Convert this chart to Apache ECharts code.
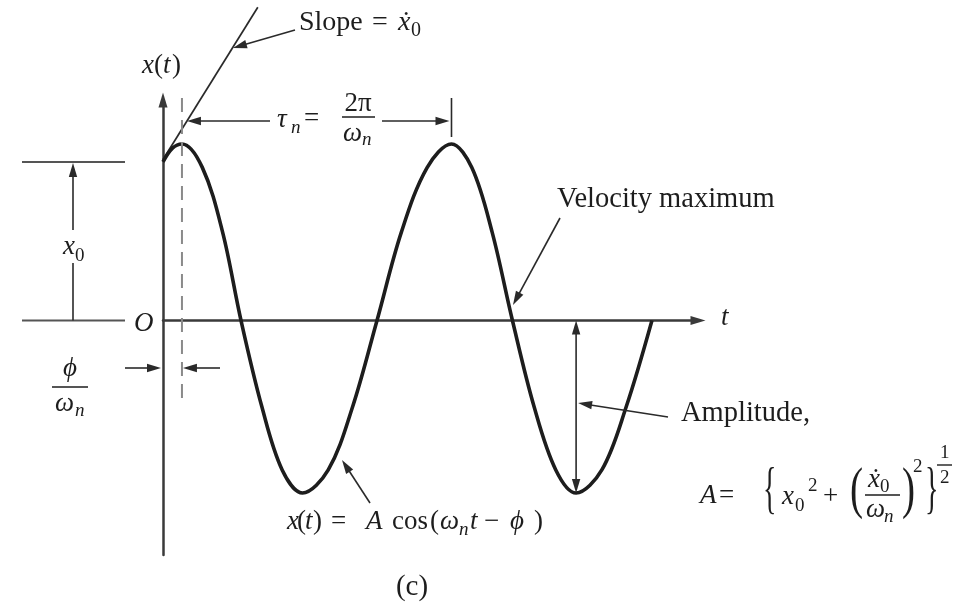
<!DOCTYPE html>
<html>
<head>
<meta charset="utf-8">
<title>Free vibration response</title>
<script src="https://cdn.jsdelivr.net/npm/echarts@6/dist/echarts.min.js"></script>
<style>
  html, body { margin: 0; padding: 0; background: #ffffff; }
  #chart { width: 966px; height: 606px; }
</style>
</head>
<body>
<div id="chart"></div>
<script>
// Time (in units of pi / omega_n) and displacement (in units of A) along the response curve
const tValues = [0, 0.07, 0.14, 0.29, 0.44, 0.576, 0.73, 0.88, 1.03, 1.22, 1.40, 1.58,
                 1.76, 1.95, 2.13, 2.28, 2.43, 2.58, 2.74, 2.90, 3.05, 3.24, 3.42, 3.61];
const xValues = [0.906, 0.985, 1.009, 0.875, 0.505, 0, -0.493, -0.854, -0.986, -0.854, -0.493, 0,
                 0.505, 0.874, 1.009, 0.874, 0.505, 0, -0.493, -0.854, -0.986, -0.854, -0.493, 0];
// Tangent at t = 0 (initial velocity)
const slopeT = [0, 0.70];
const slopeX = [0.92, 1.79];

const INK = '#1d1d1d';
const SERIF = '"Liberation Serif", "DejaVu Serif", serif';
const PHI = '\u03D5';

const chart = echarts.init(document.getElementById('chart'), null, { renderer: 'canvas' });

const axisCommon = {
  type: 'value',
  axisTick: { show: false },
  axisLabel: { show: false },
  splitLine: { show: false },
  axisLine: {
    show: true,
    onZero: true,
    symbol: ['none', 'triangle'],
    symbolSize: [9, 15],
    lineStyle: { color: '#3a3a3a', width: 2.5 }
  }
};

chart.setOption({
  animation: false,
  backgroundColor: '#ffffff',
  grid: { left: 163, top: 100, width: 535, height: 455 },
  xAxis: Object.assign({}, axisCommon, { min: 0, max: 3.95 }),
  yAxis: Object.assign({}, axisCommon, { min: -1.34, max: 1.26 }),
  series: [
    {
      name: 'x(t)',
      type: 'line',
      data: tValues.map((t, i) => [t, xValues[i]]),
      smooth: 0.35,
      showSymbol: false,
      lineStyle: { color: INK, width: 3.6 },
      z: 5
    },
    {
      name: 'slope',
      type: 'line',
      data: slopeT.map((t, i) => [t, slopeX[i]]),
      clip: false,
      showSymbol: false,
      lineStyle: { color: '#2a2a2a', width: 1.7 },
      z: 4
    }
  ]
});

// ---- annotation helpers ----
const toPx = (t, x) => chart.convertToPixel({ gridIndex: 0 }, [t, x]);
const els = [];

function seg(x1, y1, x2, y2, width, color, dash) {
  els.push({
    type: 'line', silent: true, z: 10,
    shape: { x1, y1, x2, y2 },
    style: { stroke: color || '#2a2a2a', lineWidth: width || 1.6, lineDash: dash || null }
  });
}
function head(x1, y1, x2, y2, len, half, color) {
  const dx = x2 - x1, dy = y2 - y1, d = Math.hypot(dx, dy);
  const ux = dx / d, uy = dy / d, nx = -uy, ny = ux;
  const bx = x2 - ux * len, by = y2 - uy * len;
  els.push({
    type: 'polygon', silent: true, z: 11,
    shape: { points: [[x2, y2], [bx + nx * half, by + ny * half], [bx - nx * half, by - ny * half]] },
    style: { fill: color || '#2a2a2a' }
  });
}
function arrow(x1, y1, x2, y2, width, color) {
  const dx = x2 - x1, dy = y2 - y1, d = Math.hypot(dx, dy);
  seg(x1, y1, x2 - dx / d * 6, y2 - dy / d * 6, width, color);
  head(x1, y1, x2, y2, 14, 4.2, color);
}
function txt(x, y, text, opt) {
  opt = opt || {};
  const size = opt.size || 27;
  els.push({
    type: 'text', silent: true, z: 12,
    x, y,
    scaleX: opt.sx || 1,
    style: {
      text,
      font: (opt.italic ? 'italic ' : '') + size + 'px ' + SERIF,
      fill: INK,
      align: opt.align || 'left',
      verticalAlign: 'middle'
    }
  });
}

// key points on the curve
const p0 = toPx(0, 0);
const pStart = toPx(tValues[0], xValues[0]);
const pPeak1 = toPx(tValues[2], xValues[2]);
const pPeak2 = toPx(tValues[14], xValues[14]);
const pTrough2 = toPx(tValues[20], xValues[20]);

// phase line through the first maximum
seg(pPeak1[0], 98, pPeak1[0], 400, 2, '#8a8a8a', [14, 8]);

// x0 reference lines and dimension arrow
seg(22, pStart[1], 125, pStart[1], 2, '#555555');
seg(22, p0[1], 125, p0[1], 2, '#555555');
seg(73, p0[1], 73, 263, 1.6);
arrow(73, 230, 73, pStart[1] + 1, 1.6);
txt(63, 247, 'x', { italic: true });
txt(75, 256, '0', { size: 19 });

// origin and axis labels
txt(134, 324, 'O', { italic: true });
txt(721, 318, 't', { italic: true });
txt(142, 66, 'x', { italic: true });
txt(154, 66, '(');
txt(163, 66, 't', { italic: true });
txt(172, 66, ')');

// slope label
arrow(295, 30, 233, 48, 1.6);
txt(299, 23, 'Slope', { size: 28 });
txt(372, 23, '=', { size: 28 });
txt(398, 23, '\u1E8B', { italic: true, size: 28 });
txt(411, 31, '0', { size: 20 });

// period dimension
seg(pPeak2[0], 98, pPeak2[0], 137, 1.6);
arrow(270, 121, pPeak1[0] + 5, 121, 1.6);
arrow(382, 121, pPeak2[0] - 2, 121, 1.6);
txt(277, 120, '\u03C4', { italic: true });
txt(291, 128, 'n', { italic: true, size: 19 });
txt(304, 119, '=');
txt(358, 104, '2\u03C0', { align: 'center' });
seg(342, 117, 375, 117, 1.5, INK);
txt(343, 134, '\u03C9', { italic: true });
txt(362, 140, 'n', { italic: true, size: 19 });

// phase offset phi / omega_n
arrow(125, 368, p0[0] - 2, 368, 1.6);
arrow(220, 368, pPeak1[0] + 1, 368, 1.6);
txt(70, 369, PHI, { italic: true, align: 'center' });
seg(52, 387, 88, 387, 1.5, INK);
txt(55, 404, '\u03C9', { italic: true });
txt(75, 411, 'n', { italic: true, size: 19 });

// velocity maximum
txt(557, 200, 'Velocity maximum', { size: 28.5 });
arrow(560, 218, 513, 305, 1.6);

// amplitude
const ampTop = p0[1], ampBot = pTrough2[1];
seg(pTrough2[0], ampTop + 8, pTrough2[0], ampBot - 8, 1.6);
head(pTrough2[0], ampBot, pTrough2[0], ampTop, 14, 4.2);
head(pTrough2[0], ampTop, pTrough2[0], ampBot, 14, 4.2);
txt(681, 414, 'Amplitude,', { size: 28.5 });
arrow(668, 417, pTrough2[0] + 2, 403, 1.6);

// A = { x0^2 + (xdot0 / omega_n)^2 }^(1/2)
txt(700, 496, 'A', { italic: true });
txt(719, 496, '=');
txt(763, 492, '{', { size: 56, sx: 0.5 });
txt(782, 497, 'x', { italic: true });
txt(795, 506, '0', { size: 19 });
txt(808, 486, '2', { size: 19 });
txt(823, 497, '+');
txt(850, 492, '(', { size: 56, sx: 0.7 });
txt(868, 480, '\u1E8B', { italic: true });
txt(880, 487, '0', { size: 19 });
seg(865, 495, 900, 495, 1.5, INK);
txt(866, 510, '\u03C9', { italic: true });
txt(884, 517, 'n', { italic: true, size: 19 });
txt(902, 492, ')', { size: 56, sx: 0.7 });
txt(913, 467, '2', { size: 19 });
txt(925, 492, '}', { size: 56, sx: 0.5 });
txt(940, 453, '1', { size: 19 });
seg(937, 465, 952, 465, 1.4, INK);
txt(940, 478, '2', { size: 19 });

// curve equation
arrow(370, 503, 342, 460, 1.6);
txt(287, 522, 'x', { italic: true });
txt(297, 522, '(');
txt(305, 522, 't', { italic: true });
txt(313, 522, ')');
txt(331, 522, '=');
txt(366, 522, 'A', { italic: true });
txt(392, 522, 'cos');
txt(430, 522, '(');
txt(440, 522, '\u03C9', { italic: true });
txt(459, 530, 'n', { italic: true, size: 19 });
txt(470, 522, 't', { italic: true });
txt(484, 522, '\u2212');
txt(510, 522, PHI, { italic: true });
txt(534, 522, ')');

// figure tag
txt(412, 587, '(c)', { align: 'center', size: 29 });

chart.setOption({ graphic: { elements: els } });
</script>
</body>
</html>
